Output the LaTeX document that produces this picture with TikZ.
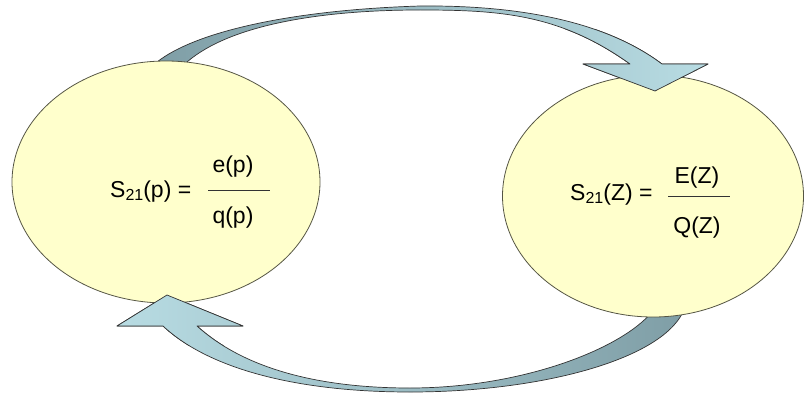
\documentclass[tikz,border=0pt]{standalone}
\usepackage{fontspec}
\setmainfont{Liberation Sans}
\usetikzlibrary{shapes.geometric}
\definecolor{eyellow}{HTML}{FFFFCC}
\definecolor{eline}{HTML}{555544}
\definecolor{adark}{HTML}{7F9EA6}
\definecolor{alight}{HTML}{B8DCE3}
\definecolor{aline}{HTML}{333333}
\tikzset{
  bubble/.style={ellipse, draw=eline, line width=0.8pt, fill=eyellow, inner sep=0pt, outer sep=0pt},
  eqtext/.style={inner sep=0pt, font=\fontsize{23}{23}\selectfont},
  barrow/.style={draw=aline, line width=0.7pt, line join=round},
  fracbar/.style={line width=0.8pt, draw=black!80},
}
\newcommand\topArrowPath{(157,62) .. controls (195,32) and (290,10) .. (420,6) .. controls (530,5) and (610,25) .. (662,64) -- (708,64) -- (655,91) -- (583,64) -- (630,64) .. controls (560,14) and (500,10) .. (420,10) .. controls (320,10) and (230,25) .. (187,62) -- (184,70) -- (154,70) -- cycle}
\newcommand\botArrowPath{(683,312) .. controls (660,360) and (540,392) .. (410,392) .. controls (300,392) and (210,370) .. (163,326) -- (117,326) -- (167,295) -- (243,326) -- (197,326) .. controls (240,365) and (310,388) .. (410,388) .. controls (520,388) and (620,350) .. (652,312) -- (655,302) -- (686,302) -- cycle}
\newcommand\subtw{\raisebox{-3.5pt}{\fontsize{16}{16}\selectfont 21}}
\begin{document}
\begin{tikzpicture}[x=1pt,y=-1pt]
\useasboundingbox (0,0) rectangle (805,396);
% arrows (tails later hidden by ellipses)
\path[barrow, left color=adark, right color=alight] \topArrowPath;
\path[barrow, left color=alight, right color=adark] \botArrowPath;
% ellipses
\node[bubble, minimum width=308pt, minimum height=242pt] (L) at (166,182) {};
\node[bubble, minimum width=301pt, minimum height=242pt] (R) at (653,196) {};
% arrow heads over ellipses
\begin{scope}
  \clip (560,30) rectangle (725,100);
  \path[barrow, left color=adark, right color=alight] \topArrowPath;
\end{scope}
\begin{scope}
  \clip (100,270) rectangle (262,345);
  \path[barrow, left color=alight, right color=adark] \botArrowPath;
\end{scope}
% left equation
\node[eqtext, anchor=base west] (lhsL) at (110,197) {S\subtw(p) =};
\node[eqtext, anchor=base] (numL) at (233,172) {e(p)};
\node[eqtext, anchor=base] (denL) at (233,223) {q(p)};
\coordinate (barLa) at (208,190);
\coordinate (barLb) at (270,190);
\draw[fracbar] (barLa) -- (barLb);
% right equation
\node[eqtext, anchor=base west] (lhsR) at (570,200) {S\subtw(Z) =};
\node[eqtext, anchor=base] (numR) at (697,183) {E(Z)};
\node[eqtext, anchor=base] (denR) at (697,233) {Q(Z)};
\coordinate (barRa) at (668,196);
\coordinate (barRb) at (730,196);
\draw[fracbar] (barRa) -- (barRb);
\end{tikzpicture}
\end{document}
